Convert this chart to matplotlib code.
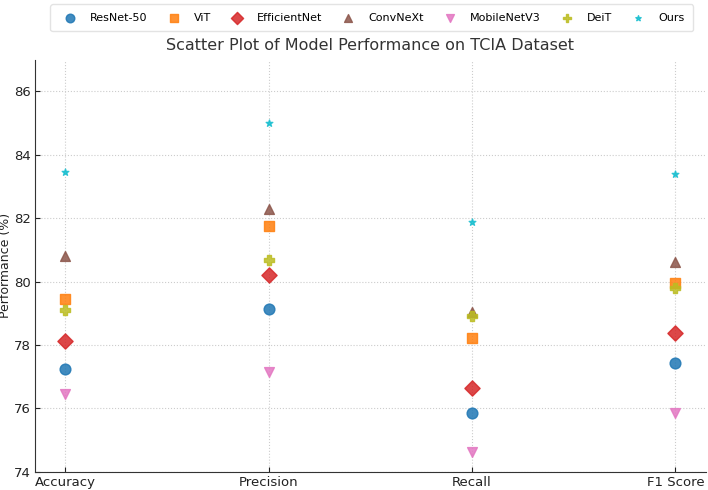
import numpy as np
import matplotlib.pyplot as plt

# metrics on the x axis
metrics = ["Accuracy", "Precision", "Recall", "F1 Score"]

# scores per model
resnet50 = [77.24, 79.13, 75.85, 77.45]
vit = [79.45, 81.75, 78.21, 79.96]
efficientnet = [78.12, 80.20, 76.64, 78.39]
convnext = [80.80, 82.30, 79.05, 80.62]
mobilenetv3 = [76.46, 77.15, 74.62, 75.87]
deit = [79.10, 80.68, 78.91, 79.79]
ours = [83.45, 85.00, 81.88, 83.41]

models = ["ResNet-50", "ViT", "EfficientNet", "ConvNeXt", "MobileNetV3", "DeiT", "Ours"]
scores = [resnet50, vit, efficientnet, convnext, mobilenetv3, deit, ours]
markers = ["o", "s", "D", "^", "v", "P", "*"]
colors = ["tab:blue", "tab:orange", "tab:red", "tab:brown", "tab:pink", "tab:olive", "tab:cyan"]
sizes = [60, 60, 60, 50, 50, 60, 25]

fig = plt.figure(figsize=(7.08, 4.9), dpi=100)
ax = fig.add_axes([0.049, 0.037, 0.948, 0.841])

x = np.arange(len(metrics))
for name, vals, m, c, s in zip(models, scores, markers, colors, sizes):
    ax.scatter(x, vals, marker=m, color=c, s=s, alpha=0.85, label=name, zorder=3)

ax.set_xticks(x)
ax.set_xticklabels(metrics, fontsize=10)
ax.set_ylim(74, 87)
ax.set_yticks([74, 76, 78, 80, 82, 84, 86])
ax.tick_params(axis="both", direction="in", labelsize=9.5, colors="#222222", pad=3)
ax.set_ylabel("Performance (%)", fontsize=9, color="#222222")
ax.yaxis.set_label_coords(-0.034, 0.5)
ax.set_title("Scatter Plot of Model Performance on TCIA Dataset", fontsize=11.5, color="#333333", pad=7)

ax.grid(True, linestyle=":", color="#cccccc", linewidth=0.8)
ax.spines["top"].set_visible(False)
ax.spines["right"].set_visible(False)
for sp in ["left", "bottom"]:
    ax.spines[sp].set_color("#333333")

ax.legend(loc="upper center", bbox_to_anchor=(0.502, 1.148), ncol=7, fontsize=8,
          frameon=True, edgecolor="#dddddd", handletextpad=0.8, columnspacing=1.35,
          borderpad=0.75, markerscale=0.8)

fig.savefig("out.png", dpi=100)
